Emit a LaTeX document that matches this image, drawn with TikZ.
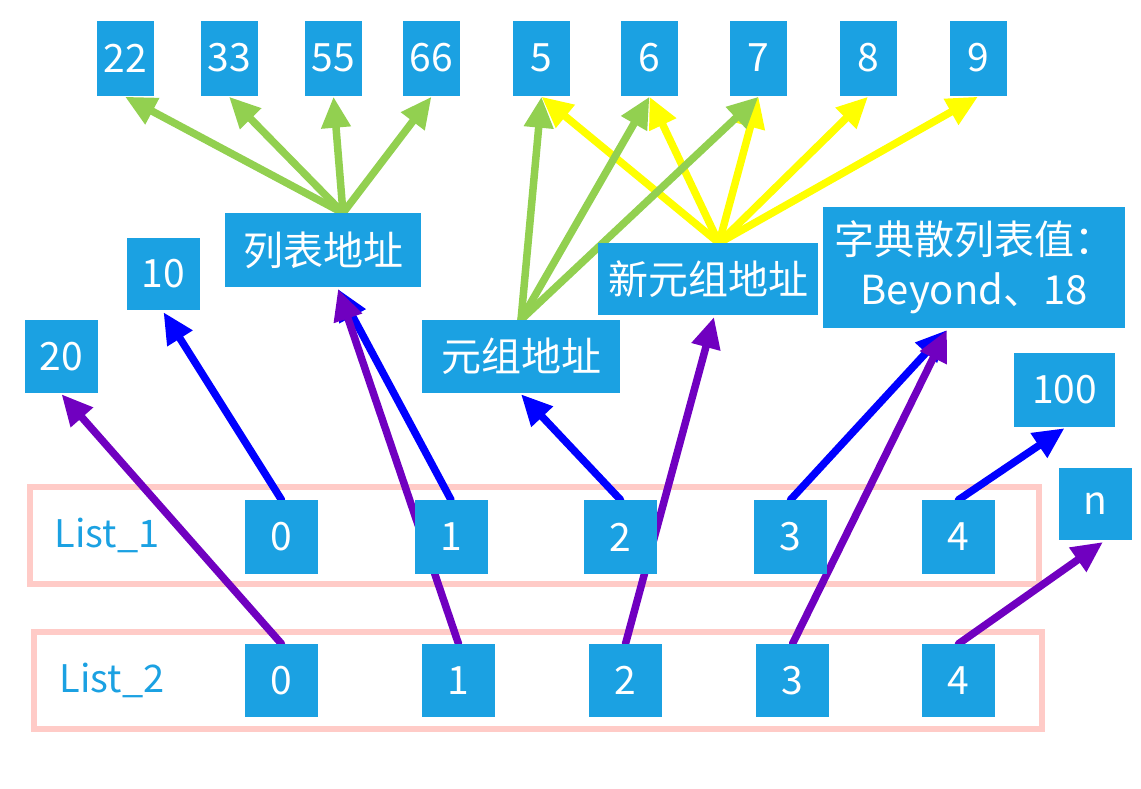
\documentclass[tikz,border=0pt]{standalone}
\usepackage{fontspec}
\setmainfont{Noto Sans CJK SC}
\usetikzlibrary{arrows.meta}
\pgfdeclarelayer{framelayer}
\pgfdeclarelayer{connlayer}
\pgfsetlayers{framelayer,connlayer,main}
\definecolor{boxblue}{HTML}{1BA1E2}
\definecolor{framepink}{HTML}{FFCBC7}
\definecolor{agreen}{HTML}{92D050}
\definecolor{ayellow}{HTML}{FFFF00}
\definecolor{ablue}{HTML}{0000FF}
\definecolor{apurple}{HTML}{7000C0}
\tikzset{
  cell/.style={fill=boxblue, text=white, inner sep=0pt, minimum width=73pt, minimum height=74pt, font=\fontsize{39}{49}\selectfont},
  topcell/.style={cell, minimum width=57pt, minimum height=75pt},
  frame/.style={draw=framepink, line width=6pt},
  lbl/.style={text=boxblue, font=\fontsize{38}{48}\selectfont},
  conn/.style={line width=7.5pt, line cap=round, -{Triangle[length=31pt,width=28pt]}},
  gconn/.style={conn, draw=agreen},
  yconn/.style={conn, draw=ayellow},
  bconn/.style={conn, draw=ablue},
  pconn/.style={conn, draw=apurple}
}
\begin{document}
\begin{tikzpicture}[x=1pt, y=-1pt]
\useasboundingbox (0,0) rectangle (1141,788);
% frames
\begin{pgfonlayer}{framelayer}
\draw[frame] (30,487) rectangle (1039,584);
\draw[frame] (34,632) rectangle (1042,729);
\end{pgfonlayer}
\node[lbl] (l1) at (107,535) {List\_1};
\node[lbl] (l2) at (112,680) {List\_2};
% boxes
\node[topcell] (t22) at (125,58) {22};
\node[topcell] (t33) at (229,58) {33};
\node[topcell] (t55) at (333.5,58) {55};
\node[topcell] (t66) at (431.5,58) {66};
\node[topcell] (t5) at (541.5,58) {5};
\node[topcell] (t6) at (649.5,58) {6};
\node[topcell] (t7) at (758.5,58) {7};
\node[topcell] (t8) at (868,58) {8};
\node[topcell] (t9) at (978,58) {9};
\node[cell, minimum width=196pt, minimum height=74pt, font=\fontsize{40}{50}\selectfont] (lb) at (323,250) {列表地址};
\node[cell, minimum height=72pt] (n10) at (163.5,274) {10};
\node[cell, minimum height=73pt] (n20) at (61.5,356.5) {20};
\node[cell, minimum width=198pt, minimum height=73pt, font=\fontsize{40}{50}\selectfont] (tp) at (521,356.5) {元组地址};
\node[cell, minimum width=220pt, minimum height=72pt, font=\fontsize{40}{50}\selectfont] (ntp) at (708,279) {新元组地址};
\node[cell, minimum width=302pt, minimum height=121pt, align=center, font=\fontsize{40}{50}\selectfont] (dict) at (974,267.5) {字典散列表值：\\ Beyond、18};
\node[cell, minimum width=101pt] (n100) at (1064.5,390) {100};
\node[cell, minimum height=72pt] (nn) at (1095.5,504) {n};
\node[cell] (a0) at (281.5,537) {0};
\node[cell] (a1) at (451,537) {1};
\node[cell] (a2) at (620.5,537) {2};
\node[cell] (a3) at (790.5,537) {3};
\node[cell] (a4) at (958.5,537) {4};
\node[cell, minimum height=73pt] (b0) at (281.5,680.5) {0};
\node[cell, minimum height=73pt] (b1) at (458.5,680.5) {1};
\node[cell, minimum height=73pt] (b2) at (625.5,680.5) {2};
\node[cell, minimum height=73pt] (b3) at (792.5,680.5) {3};
\node[cell, minimum height=73pt] (b4) at (958.5,680.5) {4};
% connector anchor points
\coordinate (lbout) at (343,213);
\coordinate (lbin) at (338,289);
\coordinate (ntpout) at (719,243);
\coordinate (ntpin) at (714,317);
\coordinate (dictin) at (947,330);
\coordinate (nnin) at (1103,542);
% connectors behind boxes
\begin{pgfonlayer}{connlayer}
\foreach \t in {t5,t6,t7,t8,t9} \draw[yconn] (ntpout) -- ([yshift=-1pt]\t.south);
\foreach \t in {t22,t33,t55,t66} \draw[gconn] (lbout) -- ([yshift=-1pt]\t.south);
\foreach \t in {t5,t6,t7} \draw[gconn] (tp.north) -- ([yshift=-1pt]\t.south);
\draw[bconn] (a0.north) -- ([yshift=-2pt]n10.south);
\draw[bconn] (a1.north) -- (lbin);
\draw[bconn] (a2.north) -- ([yshift=-1pt]tp.south);
\draw[bconn] (a3.north) -- (dictin);
\draw[bconn] (a4.north) -- ([yshift=-1pt]n100.south);
\draw[pconn] (b0.north) -- ([yshift=-1pt]n20.south);
\draw[pconn] (b1.north) -- (lbin);
\draw[pconn] (b2.north) -- (ntpin);
\draw[pconn] (b3.north) -- (dictin);
\draw[pconn] (b4.north) -- (nnin);
\end{pgfonlayer}
\end{tikzpicture}
\end{document}
